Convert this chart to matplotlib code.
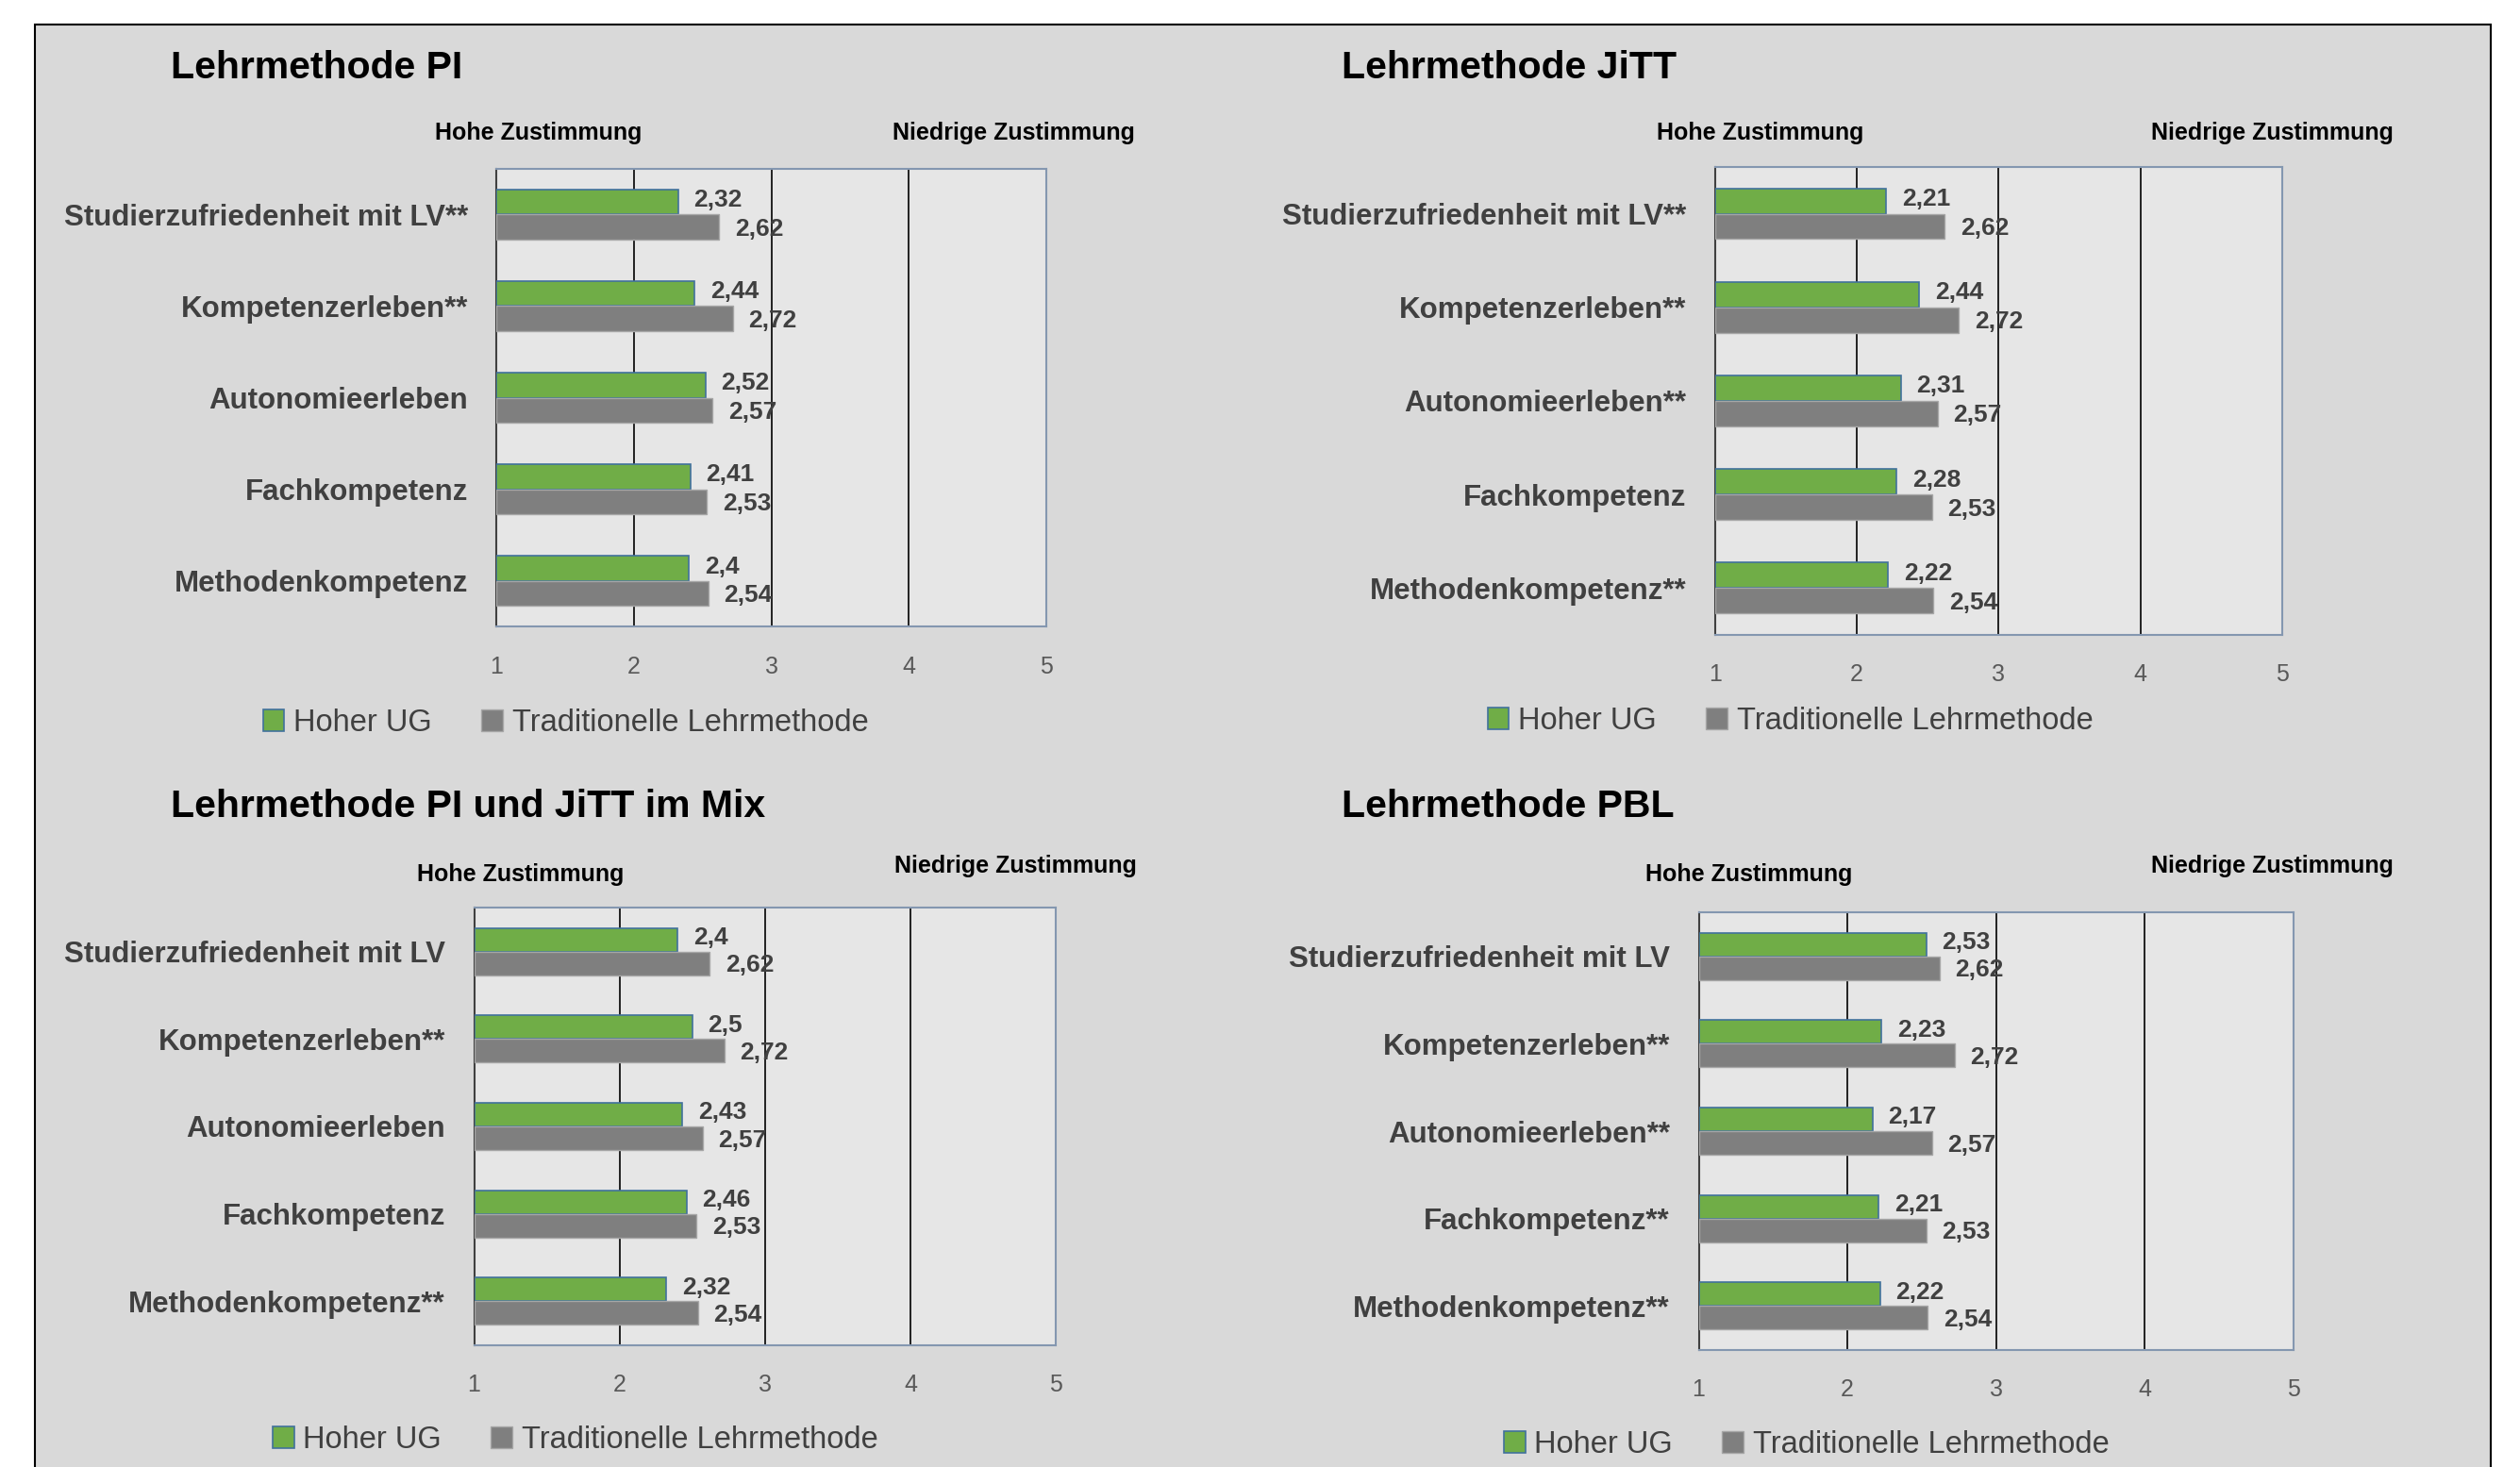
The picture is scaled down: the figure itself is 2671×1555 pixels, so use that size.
import matplotlib.pyplot as plt
from matplotlib.patches import Rectangle

plt.rcParams['font.family'] = ['Liberation Sans', 'DejaVu Sans']

# Daten der vier Diagramme
titel = ['Lehrmethode PI', 'Lehrmethode JiTT', 'Lehrmethode PI und JiTT im Mix', 'Lehrmethode PBL']

kat_pi = ['Studierzufriedenheit mit LV**', 'Kompetenzerleben**', 'Autonomieerleben', 'Fachkompetenz', 'Methodenkompetenz']
kat_jitt = ['Studierzufriedenheit mit LV**', 'Kompetenzerleben**', 'Autonomieerleben**', 'Fachkompetenz', 'Methodenkompetenz**']
kat_mix = ['Studierzufriedenheit mit LV', 'Kompetenzerleben**', 'Autonomieerleben', 'Fachkompetenz', 'Methodenkompetenz**']
kat_pbl = ['Studierzufriedenheit mit LV', 'Kompetenzerleben**', 'Autonomieerleben**', 'Fachkompetenz**', 'Methodenkompetenz**']

hoher_pi = [2.32, 2.44, 2.52, 2.41, 2.4]
hoher_jitt = [2.21, 2.44, 2.31, 2.28, 2.22]
hoher_mix = [2.4, 2.5, 2.43, 2.46, 2.32]
hoher_pbl = [2.53, 2.23, 2.17, 2.21, 2.22]
traditionell = [2.62, 2.72, 2.57, 2.53, 2.54]

x_ticks = [1, 2, 3, 4, 5]

W, H = 1568, 913  # Koordinaten aus dem verkleinerten Bild


def fx(x):
    return x / W


def fy(y):
    return 1 - y / H


fig = plt.figure(figsize=(26.71, 15.55), dpi=100)
fig.patch.set_facecolor('white')
fig.patches.append(Rectangle((fx(22), -0.05), fx(1550) - fx(22), fy(15) + 0.05,
                             transform=fig.transFigure, facecolor='#d9d9d9',
                             edgecolor='black', linewidth=1.5, zorder=-10))

# (links, oben, rechts, unten) der Achsen, Titel, Zustimmungs-Texte, Legende
panels = [
    (kat_pi, hoher_pi, (309, 105, 651, 390), (106, 42), (335, 83), (631, 83), (352, 450)),
    (kat_jitt, hoher_jitt, (1067, 104, 1420, 395), (835, 42), (1095, 83), (1414, 83), (1114, 449)),
    (kat_mix, hoher_mix, (295, 565, 657, 837), (106, 502), (324, 544), (632, 539), (358, 896)),
    (kat_pbl, hoher_pbl, (1057, 568, 1427, 840), (835, 502), (1088, 544), (1414, 539), (1124, 899)),
]

for i, (kat, hoher, box, tpos, hpos, npos, lpos) in enumerate(panels):
    l, t, r, b = box
    ax = fig.add_axes([fx(l), fy(b), fx(r) - fx(l), fy(t) - fy(b)])
    ax.set_facecolor('#e6e6e6')
    pos = list(range(len(kat)))
    h = 0.27
    g1 = ax.barh([p - h / 2 for p in pos], [v - 1 for v in hoher], left=1, height=h,
                 color='#70ad47', edgecolor='#41719c', linewidth=1.2, label='Hoher UG', zorder=3)
    g2 = ax.barh([p + h / 2 for p in pos], [v - 1 for v in traditionell], left=1, height=h,
                 color='#7f7f7f', edgecolor='#a6a6a6', linewidth=1.0,
                 label='Traditionelle Lehrmethode', zorder=3)
    for p, v in zip(pos, hoher):
        ax.annotate(f'{v:g}'.replace('.', ','), (v, p - h / 2), xytext=(12, 1.5),
                    textcoords='offset points', va='center', ha='left',
                    fontsize=19, fontweight='bold', color='#404040', zorder=4)
    for p, v in zip(pos, traditionell):
        ax.annotate(f'{v:g}'.replace('.', ','), (v, p + h / 2), xytext=(12, -1.5),
                    textcoords='offset points', va='center', ha='left',
                    fontsize=19, fontweight='bold', color='#404040', zorder=4)

    ax.set_xlim(1, 5)
    ax.set_ylim(len(kat) - 0.5, -0.5)
    ax.set_xticks(x_ticks)
    ax.set_xticklabels([str(x) for x in x_ticks])
    ax.set_yticks(pos)
    ax.set_yticklabels(kat, fontsize=22.5, fontweight='bold', color='#404040')
    ax.tick_params(axis='y', length=0, pad=22)
    ax.tick_params(axis='x', length=0, pad=22, labelsize=18, labelcolor='#595959')
    for xv in [2, 3, 4]:
        ax.axvline(xv, color='black', linewidth=1.2, zorder=2)
    for s in ['top', 'right', 'bottom']:
        ax.spines[s].set_color('#8497b0')
        ax.spines[s].set_linewidth(1.5)
    ax.spines['left'].set_color('#404040')
    ax.spines['left'].set_linewidth(1.5)

    fig.text(fx(tpos[0]), fy(tpos[1]), titel[i], fontsize=29.5, fontweight='bold',
             ha='left', va='center', color='black')
    fig.text(fx(hpos[0]), fy(hpos[1]), 'Hohe Zustimmung', fontsize=18, fontweight='bold',
             ha='center', va='center', color='black')
    fig.text(fx(npos[0]), fy(npos[1]), 'Niedrige Zustimmung', fontsize=18, fontweight='bold',
             ha='center', va='center', color='black')

    leg = fig.legend(handles=[g1, g2], loc='center', bbox_to_anchor=(fx(lpos[0]), fy(lpos[1])),
                     ncol=2, frameon=False, fontsize=23.5, handlelength=0.7, handleheight=0.7,
                     handletextpad=0.3, columnspacing=1.6)
    for txt in leg.get_texts():
        txt.set_color('#404040')

plt.savefig('out.png', dpi=100, facecolor=fig.get_facecolor())
